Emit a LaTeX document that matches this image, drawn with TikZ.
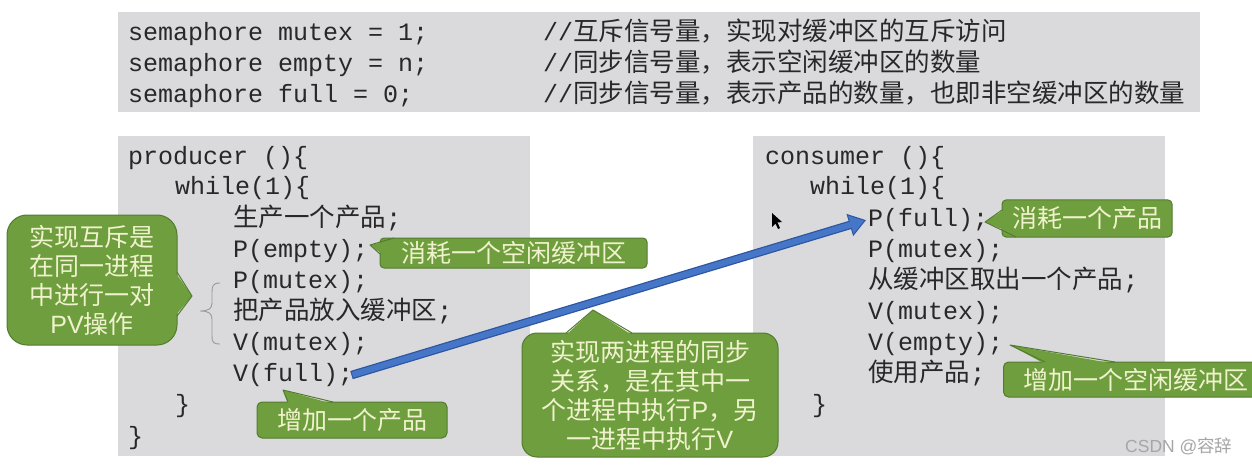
\documentclass[tikz,border=0pt]{standalone}
\usepackage{fontspec}
\setmonofont{Liberation Mono}
\newfontfamily\cjk{Noto Sans CJK SC}
\newfontfamily\sanslat{Liberation Sans}
\usetikzlibrary{arrows.meta}
\definecolor{codegray}{RGB}{218,218,220}
\definecolor{cgreen}{RGB}{110,158,62}
\definecolor{cborder}{RGB}{84,124,48}
\definecolor{ctext}{RGB}{240,242,205}
\definecolor{codetext}{RGB}{40,40,40}
\definecolor{arrowblue}{RGB}{70,118,200}
\definecolor{arrowedge}{RGB}{45,85,160}
\tikzset{
  code/.style={font=\ttfamily\fontsize{25}{30}\selectfont, text=codetext, inner sep=0pt, anchor=base west},
  ccode/.style={font=\cjk\fontsize{25.5}{30}\selectfont, text=codetext, inner sep=0pt, anchor=base west},
  codebox/.style={fill=codegray, draw=none},
  callout/.style={fill=cgreen, draw=cborder, line width=1pt, text=ctext,
    font=\cjk\fontsize{25}{29}\selectfont, inner sep=0pt, align=center},
  tailfill/.style={fill=cgreen},
  tailedge/.style={draw=cborder, line width=1pt, line join=round},
  bracestyle/.style={draw=gray!80, line width=0.9pt},
}
\begin{document}
\begin{tikzpicture}[x=1pt,y=-1pt]
\useasboundingbox (0,0) rectangle (1252,465);
\clip (0,0) rectangle (1252,465);
\fill[white] (0,0) rectangle (1252,465);

% top declaration box
\node[codebox, minimum width=1082pt, minimum height=100pt, inner sep=0pt, anchor=north west] (decl) at (118,12) {};
\node[code] (d1) at (128,41) {semaphore mutex = 1;};
\node[code] (d2) at (128,72) {semaphore empty = n;};
\node[code] (d3) at (128,103) {semaphore full = 0;};
\node[code] (k1) at (543,41) {//\fontsize{25.5}{30}\cjk 互斥信号量，实现对缓冲区的互斥访问};
\node[code] (k2) at (543,72) {//\fontsize{25.5}{30}\cjk 同步信号量，表示空闲缓冲区的数量};
\node[code] (k3) at (543,103) {//\fontsize{25.5}{30}\cjk 同步信号量，表示产品的数量，也即非空缓冲区的数量};

% producer box
\node[codebox, minimum width=412pt, minimum height=320pt, inner sep=0pt, anchor=north west] (pbox) at (118,136) {};
\node[code] (p1) at (128,165) {producer ()\{};
\node[code] (p2) at (175,195) {while(1)\{};
\node[ccode] (p3) at (233,226) {生产一个产品\texttt{;}};
\node[code] (p4) at (233,257) {P(empty);};
\node[code] (p5) at (233,288) {P(mutex);};
\node[ccode] (p6) at (233,319) {把产品放入缓冲区\texttt{;}};
\node[code] (p7) at (233,350) {V(mutex);};
\node[code] (vfull) at (233,381) {V(full);};
\node[code] (p9) at (175,412) {\}};
\node[code] (p10) at (128,444) {\}};

% consumer box
\node[codebox, minimum width=412pt, minimum height=320pt, inner sep=0pt, anchor=north west] (cbox) at (753,136) {};
\node[code] (q1) at (765,165) {consumer ()\{};
\node[code] (q2) at (810,195) {while(1)\{};
\node[code] (pfull) at (868,226) {P(full);};
\node[code] (q4) at (868,257) {P(mutex);};
\node[ccode] (q5) at (868,288) {从缓冲区取出一个产品\texttt{;}};
\node[code] (q6) at (868,319) {V(mutex);};
\node[code] (q7) at (868,350) {V(empty);};
\node[ccode] (q8) at (868,381) {使用产品\texttt{;}};
\node[code] (q9) at (812,412) {\}};

% brace
\coordinate (bt) at (220,283);
\coordinate (bb) at (220,344);
\coordinate (btip) at (200,311);
\draw[bracestyle] (bt) .. controls (213,283) and (212,286) .. (212,292)
  -- (212,303) .. controls (212,309) and (208,311) .. (btip)
  .. controls (208,311) and (212,313) .. (212,319)
  -- (212,336) .. controls (212,342) and (213,344) .. (bb);

% blue arrow
\draw[arrowedge, line width=8.5pt, -{Triangle[length=17pt,width=22pt]}, shorten <=-2pt, shorten >=2pt]
  (vfull.east) -- (pfull.west);
\draw[arrowblue, line width=6pt, -{Triangle[length=14pt,width=18pt]}, shorten <=-1pt, shorten >=4pt]
  (vfull.east) -- (pfull.west);

% callout 1 (left)
\node[callout, rounded corners=20pt, minimum width=170pt, minimum height=130pt] (c1) at (92,280)
  {实现互斥是\\在同一进程\\中进行一对\\{\sanslat PV}操作};
\fill[tailfill] (175,272) -- (192,296) -- (175,316) -- cycle;
\draw[tailedge] (177,272) -- (192,296) -- (177,316);

% callout 2
\node[callout, rounded corners=4pt, minimum width=267pt, minimum height=30pt] (c2) at (513.5,253) {消耗一个空闲缓冲区};
\fill[tailfill] (394,240) -- (370,245) -- (382,254) -- cycle;
\draw[tailedge] (394,238) -- (370,245) -- (380,254);

% callout 3
\node[callout, rounded corners=5pt, minimum width=190pt, minimum height=36pt] (c3) at (352,420) {增加一个产品};
\fill[tailfill] (288,404) -- (283,390) -- (333,404) -- cycle;
\draw[tailedge] (288,402) -- (283,390) -- (333,402);

% callout 4 (middle)
\node[callout, rounded corners=15pt, minimum width=256pt, minimum height=124pt] (c4) at (650,395)
  {实现两进程的同步\\关系，是在其中一\\个进程中执行{\sanslat P}，另\\一进程中执行{\sanslat V}};
\fill[tailfill] (566,335) -- (593,310) -- (632,335) -- cycle;
\draw[tailedge] (566,333) -- (593,310) -- (632,333);

% callout 5
\node[callout, rounded corners=4pt, minimum width=170pt, minimum height=37pt] (c5) at (1087,218.5) {消耗一个产品};
\fill[tailfill] (1004,210) -- (985,222) -- (1016,235) -- cycle;
\draw[tailedge] (1002,210) -- (985,222) -- (1016,237);

% callout 6
\node[callout, rounded corners=5pt, minimum width=260pt, minimum height=35pt, anchor=west] (c6) at (1003,379.5) {\hspace*{4pt}增加一个空闲缓冲区};
\fill[tailfill] (1045,364) -- (1010,345) -- (1115,364) -- cycle;
\draw[tailedge] (1045,362) -- (1010,345) -- (1115,362);

% mouse cursor
\fill[black] (772,213) -- (772,227) -- (775.5,223.5) -- (778,229) -- (780,228) -- (777.5,222.5) -- (782,222) -- cycle;

% watermark
\node[font=\sanslat\fontsize{17.5}{20}\selectfont, text=gray!70, inner sep=0pt, anchor=base west] (wm) at (1125,452) {CSDN @{\cjk 容辞}};
\end{tikzpicture}
\end{document}
